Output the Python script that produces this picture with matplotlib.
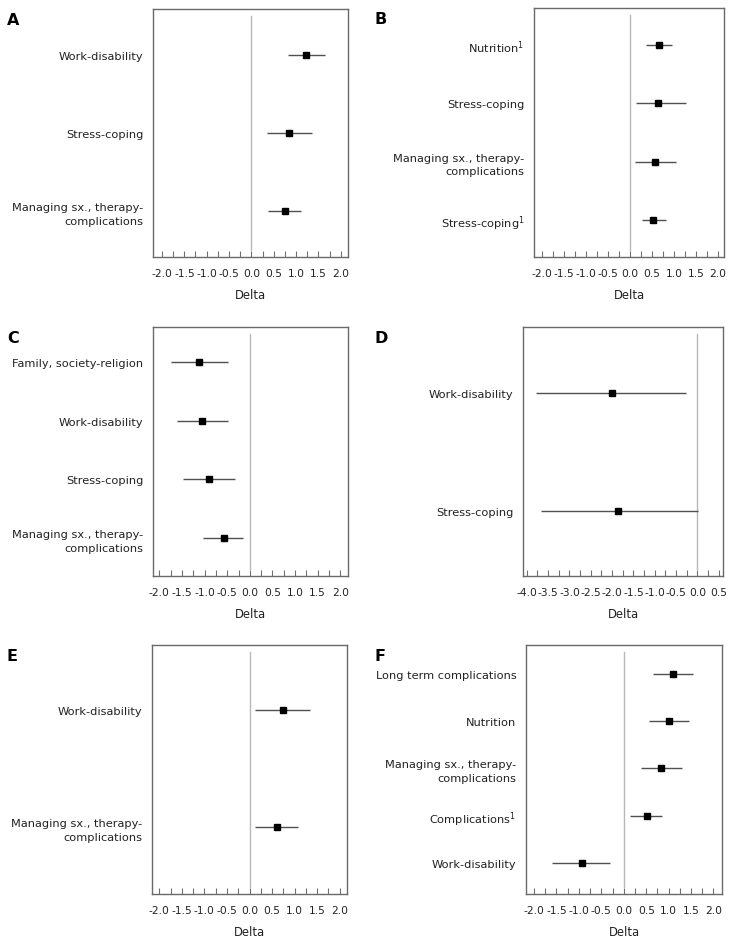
import numpy as np
import matplotlib
matplotlib.use("Agg")
import matplotlib.pyplot as plt
from matplotlib.ticker import MultipleLocator, FormatStrFormatter

plt.rcParams['font.family'] = ['DejaVu Sans']
plt.rcParams['axes.unicode_minus'] = False

MSX = "Managing sx., therapy-\ncomplications"

# panel A
labels_a = ["Work-disability", "Stress-coping", MSX]
delta_a = [1.22, 0.84, 0.75]
low_a = [0.81, 0.34, 0.38]
high_a = [1.64, 1.36, 1.12]

# panel B
labels_b = [r"Nutrition$^{\mathregular{1}}$", "Stress-coping", MSX,
            r"Stress-coping$^{\mathregular{1}}$"]
delta_b = [0.66, 0.64, 0.58, 0.53]
low_b = [0.36, 0.14, 0.11, 0.27]
high_b = [0.96, 1.27, 1.05, 0.83]

# panel C
labels_c = ["Family, society-religion", "Work-disability", "Stress-coping", MSX]
delta_c = [-1.12, -1.06, -0.91, -0.58]
low_c = [-1.74, -1.62, -1.48, -1.03]
high_c = [-0.48, -0.48, -0.32, -0.15]

# panel D
labels_d = ["Work-disability", "Stress-coping"]
delta_d = [-2.00, -1.87]
low_d = [-3.78, -3.67]
high_d = [-0.26, 0.02]

# panel E
labels_e = ["Work-disability", MSX]
delta_e = [0.74, 0.61]
low_e = [0.13, 0.13]
high_e = [1.35, 1.07]

# panel F
labels_f = ["Long term complications", "Nutrition", MSX,
            r"Complications$^{\mathregular{1}}$", "Work-disability"]
delta_f = [1.10, 1.01, 0.84, 0.52, -0.94]
low_f = [0.65, 0.57, 0.39, 0.13, -1.60]
high_f = [1.55, 1.46, 1.29, 0.86, -0.30]

W, H = 735, 945
fig = plt.figure(figsize=(W / 100, H / 100), dpi=100)

# (letter, labels, delta, low, high, box px (x0, y0, x1, y1), xlim, ylim, xticks range)
panels = [
    ("A", labels_a, delta_a, low_a, high_a, (153, 10, 348, 258), (-2.2, 2.16), (0.41, 3.59), (-2.0, 2.0)),
    ("B", labels_b, delta_b, low_b, high_b, (534, 9, 724, 258), (-2.18, 2.14), (0.365, 4.635), (-2.0, 2.0)),
    ("C", labels_c, delta_c, low_c, high_c, (153, 328, 348, 577), (-2.14, 2.17), (0.353, 4.6), (-2.0, 2.0)),
    ("D", labels_d, delta_d, low_d, high_d, (523, 328, 723, 577), (-4.09, 0.6), (0.45, 2.56), (-4.0, 0.5)),
    ("E", labels_e, delta_e, low_e, high_e, (152, 646, 347, 895), (-2.16, 2.16), (0.43, 2.56), (-2.0, 2.0)),
    ("F", labels_f, delta_f, low_f, high_f, (526, 646, 722, 895), (-2.18, 2.19), (0.344, 5.61), (-2.0, 2.0)),
]

for letter, labels, delta, low, high, box, xlim, ylim, trange in panels:
    x0, y0, x1, y1 = box
    ax = fig.add_axes([x0 / W, 1 - y1 / H, (x1 - x0) / W, (y1 - y0) / H])
    n = len(labels)
    ypos = np.arange(n, 0, -1)
    delta = np.array(delta)
    err = [delta - np.array(low), np.array(high) - delta]
    ax.axvline(0, ymin=0.03, ymax=0.97, color="#b8b8b8", lw=1)
    ax.errorbar(delta, ypos, xerr=err, fmt="s", color="black", ms=5,
                ecolor="#505050", elinewidth=1, capsize=0)
    ax.set_xlim(*xlim)
    ax.set_ylim(*ylim)
    ax.set_yticks(ypos)
    ax.set_yticklabels(labels, fontsize=8.2, linespacing=1.45)
    ax.tick_params(axis="y", length=0, pad=7, colors="#222222")
    ax.set_xticks(np.arange(trange[0], trange[1] + 0.01, 0.5))
    ax.xaxis.set_major_formatter(FormatStrFormatter("%.1f"))
    ax.xaxis.set_minor_locator(MultipleLocator(0.25))
    ax.tick_params(axis="x", which="both", direction="in", length=4.2, width=0.8,
                   color="#707070", labelsize=7.7, pad=8, labelcolor="#222222")
    ax.set_xlabel("Delta", fontsize=8.4, labelpad=7, color="#222222")
    for s in ax.spines.values():
        s.set_color("#6a6a6a")
        s.set_linewidth(1)
    lx = 7 if x0 < 300 else 375
    fig.text(lx / W, 1 - (y0 + 3) / H, letter, fontsize=11.5, fontweight="heavy",
             va="top", ha="left")

fig.savefig("out.png", dpi=100)
